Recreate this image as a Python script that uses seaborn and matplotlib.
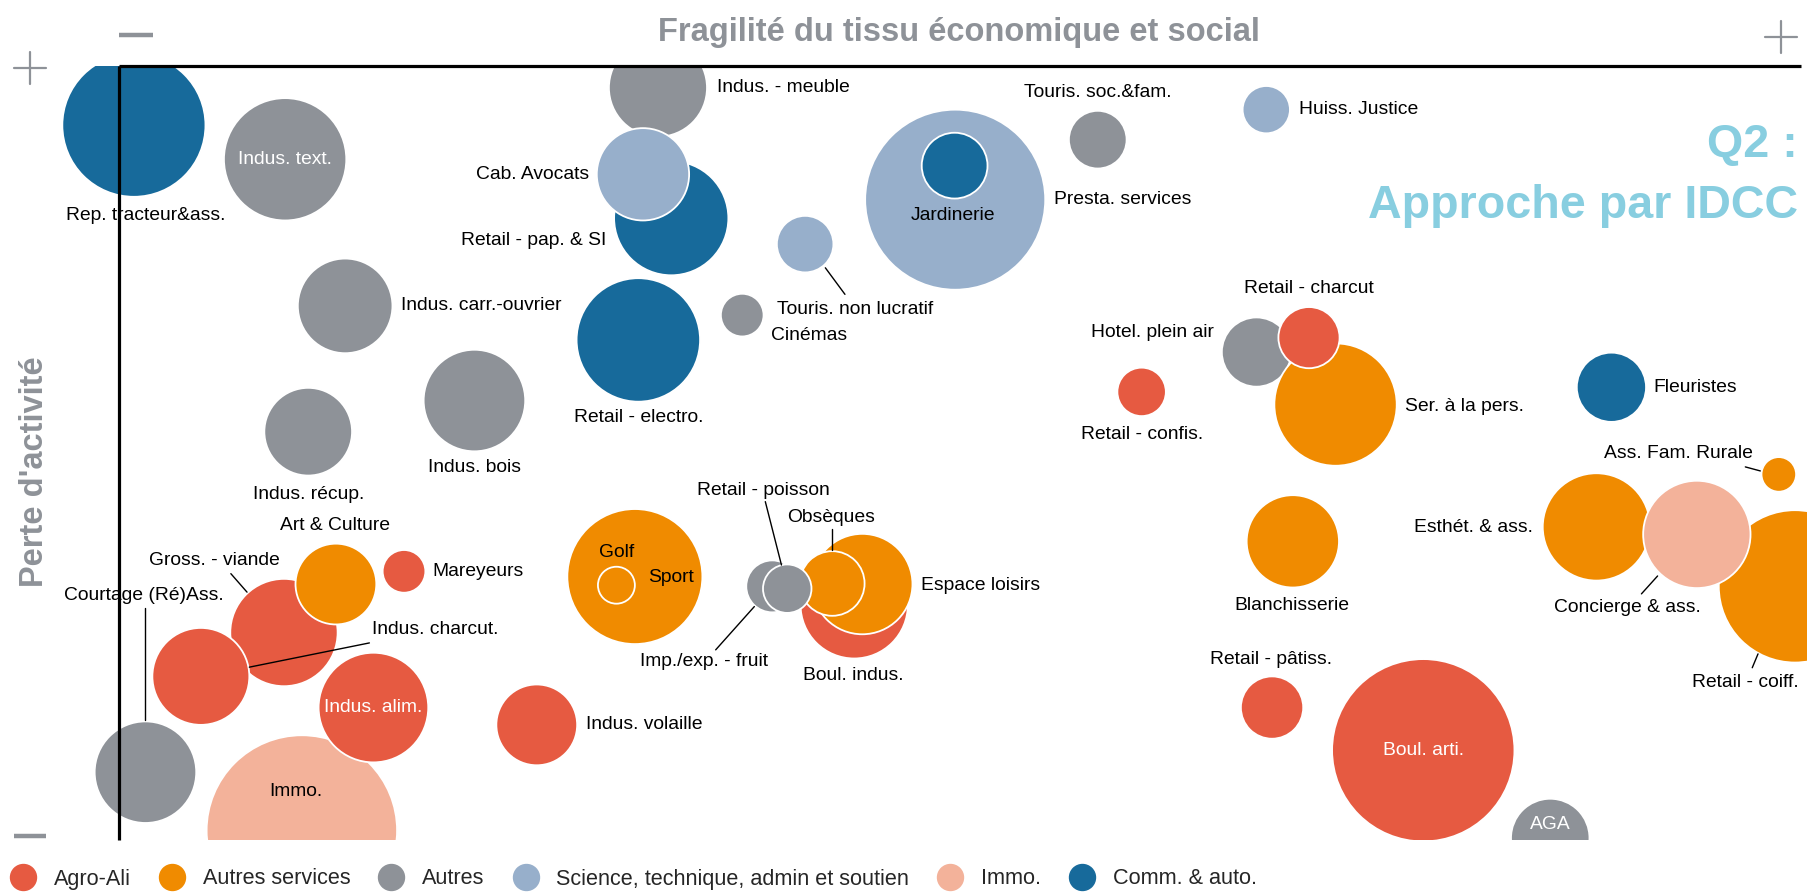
import matplotlib
matplotlib.use("Agg")
import matplotlib.pyplot as plt
from matplotlib import font_manager
from matplotlib.lines import Line2D
import pandas as pd
import seaborn as sns

# ---- data ----
secteurs = ["Agro-Ali", "Autres services", "Autres",
            "Science, technique, admin et soutien", "Immo.", "Comm. & auto."]
couleurs = ["#E65A41", "#F08B00", "#8E9298", "#97AFCB", "#F3B29A", "#176A9B"]

# bubbles, in drawing order
noms = ["Rep. tracteur&ass.", "Indus. text.", "Indus. - meuble", "Retail - pap. & SI",
        "Cab. Avocats", "Touris. non lucratif", "Cinémas", "Indus. carr.-ouvrier",
        "Retail - electro.", "Indus. bois", "Indus. récup.", "Presta. services",
        "Jardinerie", "Touris. soc.&fam.", "Huiss. Justice", "Hotel. plein air",
        "Ser. à la pers.", "Retail - charcut", "Retail - confis.", "Fleuristes",
        "Ass. Fam. Rurale", "Esthét. & ass.", "Retail - coiff.", "Concierge & ass.",
        "Blanchisserie", "Retail - pâtiss.", "Boul. arti.", "AGA",
        "Boul. indus.", "Espace loisirs", "Obsèques", "Imp./exp. - fruit",
        "Retail - poisson", "Sport", "Golf", "Gross. - viande", "Art & Culture",
        "Mareyeurs", "Indus. charcut.", "Courtage (Ré)Ass.", "Immo.",
        "Indus. alim.", "Indus. volaille"]
secteur = ["Comm. & auto.", "Autres", "Autres", "Comm. & auto.",
           "Science, technique, admin et soutien", "Science, technique, admin et soutien",
           "Autres", "Autres", "Comm. & auto.", "Autres", "Autres",
           "Science, technique, admin et soutien", "Comm. & auto.", "Autres",
           "Science, technique, admin et soutien", "Autres", "Autres services",
           "Agro-Ali", "Agro-Ali", "Comm. & auto.", "Autres services",
           "Autres services", "Autres services", "Immo.", "Autres services",
           "Agro-Ali", "Agro-Ali", "Autres", "Agro-Ali", "Autres services",
           "Autres services", "Autres", "Autres", "Autres services",
           "Autres services", "Agro-Ali", "Autres services", "Agro-Ali",
           "Agro-Ali", "Autres", "Immo.", "Agro-Ali", "Agro-Ali"]
fragilite = [13, 144, 467, 478.5, 454, 594.5, 540, 196, 450, 308, 164, 724.5,
             724, 848, 994, 985.5, 1054, 1031, 886, 1293, 1438, 1280, 1452, 1367,
             1017, 999, 1130, 1240, 637, 644, 618, 566, 579, 447, 431, 143, 188,
             247, 71, 23, 158.5, 220.5, 362]
perte = [619.5, 590, 652, 539, 577, 516.5, 455, 463, 433.5, 381, 354, 555,
         584.5, 607, 633, 423, 377.5, 435.5, 388.5, 392.5, 317, 271.5, 220, 265,
         259, 115, 78, 2, 204, 222, 222.5, 220, 218, 228.5, 221, 180, 222,
         233, 142, 59, 8.5, 115, 100]
taille = [62, 53, 42.5, 49.5, 40, 24.5, 18.5, 41, 53.5, 44, 38, 78,
          28.5, 25, 20.5, 30, 53, 26.5, 21, 30, 15, 46.5, 66, 46.5,
          40, 27, 79, 34, 46.5, 43.5, 28, 22.5, 21, 58.5, 16, 46.5, 35,
          18.5, 42, 44, 82.5, 47.5, 35]

# labels
lab_txt = ["Rep. tracteur&ass.", "Indus. text.", "Indus. - meuble", "Cab. Avocats",
           "Retail - pap. & SI", "Touris. non lucratif", "Cinémas", "Indus. carr.-ouvrier",
           "Retail - electro.", "Indus. bois", "Indus. récup.", "Presta. services",
           "Jardinerie", "Touris. soc.&fam.", "Huiss. Justice", "Hotel. plein air",
           "Ser. à la pers.", "Retail - charcut", "Retail - confis.", "Fleuristes",
           "Ass. Fam. Rurale", "Esthét. & ass.", "Concierge & ass.", "Retail - coiff.",
           "Blanchisserie", "Retail - pâtiss.", "Boul. arti.", "AGA", "Boul. indus.",
           "Espace loisirs", "Obsèques", "Imp./exp. - fruit", "Retail - poisson",
           "Golf", "Sport", "Art & Culture", "Gross. - viande", "Mareyeurs",
           "Indus. charcut.", "Courtage (Ré)Ass.", "Immo.", "Indus. alim.",
           "Indus. volaille"]
lab_x = [23, 144, 518, 407, 422, 570, 565, 244, 450, 308, 164, 810, 723, 848,
         1022, 949, 1114, 1031, 886, 1329, 1351, 1225, 1307, 1409, 1016, 998,
         1130, 1240, 636, 695, 617, 507, 558, 431, 478, 187, 83, 272, 219, 22,
         153, 220.5, 405]
lab_y = [541, 590, 652, 577, 520, 460, 437, 463, 366, 323, 300, 555, 541, 648,
         633, 440, 376, 478, 352, 392, 335, 271, 202, 137, 203, 157, 78, 14,
         143, 221, 279.5, 154.5, 303, 249, 228, 273, 242, 233, 183, 212, 42,
         115, 100]
lab_ha = ["center", "center", "left", "right", "right", "left", "left", "left",
          "center", "center", "center", "left", "center", "center", "left", "right",
          "left", "center", "center", "left", "center", "right", "center", "center",
          "center", "center", "center", "center", "center", "left", "center",
          "center", "center", "center", "center", "center", "center", "left",
          "left", "center", "center", "center", "left"]
lab_blanc = ["Indus. text.", "Boul. arti.", "AGA", "Indus. alim."]

# leader lines (x0, y0, x1, y1)
traits = [(612, 496, 629, 473), (560, 293.4, 574, 238.5), (617.5, 270, 617.5, 251.5),
          (517, 165, 550.5, 202.5), (97, 231, 111, 215), (113, 150, 217, 171),
          (23, 201, 23, 104), (1409, 323.5, 1422, 320), (1333, 229, 1319, 213.5),
          (1420, 161.5, 1415, 149.5)]

# ---- fonts ----
sns.set_style("white")
installed = {f.name for f in font_manager.fontManager.ttflist}
if "Liberation Sans Narrow" in installed:
    NARROW, k = "Liberation Sans Narrow", 1.0
else:
    NARROW, k = "Liberation Sans", 0.84
plt.rcParams["font.family"] = [NARROW, "DejaVu Sans"]

GRIS = "#8E9298"
CYAN = "#88CEE0"
W, H = 1810, 893

fig = plt.figure(figsize=(W / 100, H / 100), dpi=100)
ax = fig.add_axes([0, 1 - 840.3 / H, 1806.5 / W, 774.5 / H])
ax.set_xlim(-103, 1462)
ax.set_ylim(0, 671)
ax.set_axis_off()

df = pd.DataFrame({"nom": noms, "secteur": secteur, "fragilite": fragilite,
                   "perte": perte, "taille": taille})
pt_per_unit = 774.5 / 671 * 0.72
sizes = (2 * df["taille"] * pt_per_unit) ** 2
palette = dict(zip(secteurs, couleurs))

sns.scatterplot(data=df, x="fragilite", y="perte", hue="secteur", palette=palette,
                s=sizes.values, edgecolor="white", linewidth=1.3, alpha=1,
                legend=False, ax=ax, zorder=2)

for t, x, y, ha in zip(lab_txt, lab_x, lab_y, lab_ha):
    ax.text(x, y, t, ha=ha, va="center", fontsize=16.5 * k,
            color="white" if t in lab_blanc else "black", zorder=5)

for x0, y0, x1, y1 in traits:
    ax.plot([x0, x1], [y0, y1], color="black", lw=1.0, zorder=4, clip_on=False)

# frame lines
ax.plot([0, 0], [0, 671], color="black", lw=2.3, zorder=6, clip_on=False,
        solid_capstyle="butt")
ax.plot([0, 1457], [671, 671], color="black", lw=2.3, zorder=6, clip_on=False,
        solid_capstyle="butt")


def px(x, y):
    return x / W, 1 - y / H


# + / - markers
for (x0, y0), (x1, y1) in [((119, 35), (153, 35)), ((14, 836), (46, 836))]:
    fig.add_artist(Line2D(*zip(px(x0, y0), px(x1, y1)), color=GRIS, lw=3.2,
                          solid_capstyle="butt"))
for cx, cy in [(1781, 37), (30, 68)]:
    fig.add_artist(Line2D(*zip(px(cx - 16, cy), px(cx + 16, cy)), color=GRIS, lw=1.6))
    fig.add_artist(Line2D(*zip(px(cx, cy - 16), px(cx, cy + 16)), color=GRIS, lw=1.6))

# titles
fig.text(*px(959, 40.7), "Fragilité du tissu économique et social", ha="center",
         va="baseline", fontsize=23.5 * k / 0.84, fontweight="bold", color=GRIS)
fig.text(*px(1798, 157), "Q2 :", ha="right", va="baseline", fontsize=40 * k,
         fontweight="bold", color=CYAN)
fig.text(*px(1798, 218), "Approche par IDCC", ha="right", va="baseline",
         fontsize=40 * k, fontweight="bold", color=CYAN)
fig.text(*px(43.3, 472), "Perte d'activité", rotation=90, rotation_mode="anchor",
         ha="center", va="baseline", fontsize=23.5, fontweight="bold", color=GRIS,
         family="Liberation Sans")

# legend
handles = [Line2D([], [], marker="o", ls="", markersize=18.7,
                  markerfacecolor=c, markeredgecolor=c) for c in couleurs]
fig.legend(handles, secteurs, loc="center left", bbox_to_anchor=px(10, 879), ncol=6,
           frameon=False, fontsize=18.5 * k, handlelength=1.2, handletextpad=0.83,
           columnspacing=1.3, borderpad=0, borderaxespad=0)

fig.savefig("out.png", dpi=100)
